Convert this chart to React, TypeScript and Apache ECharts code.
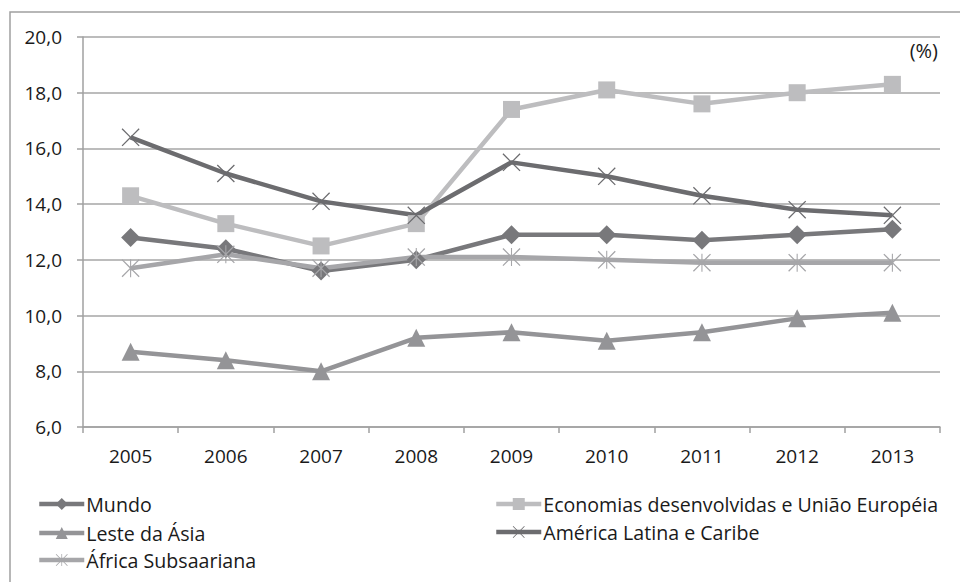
import React, { useEffect, useRef } from "react";
import * as echarts from "echarts";

const categories = ["2005", "2006", "2007", "2008", "2009", "2010", "2011", "2012", "2013"];
const mundo = [12.8, 12.4, 11.6, 12.0, 12.9, 12.9, 12.7, 12.9, 13.1];
const economias = [14.3, 13.3, 12.5, 13.3, 17.4, 18.1, 17.6, 18.0, 18.3];
const lesteAsia = [8.7, 8.4, 8.0, 9.2, 9.4, 9.1, 9.4, 9.9, 10.1];
const americaLatina = [16.4, 15.1, 14.1, 13.6, 15.5, 15.0, 14.3, 13.8, 13.6];
const africa = [11.7, 12.2, 11.7, 12.1, 12.1, 12.0, 11.9, 11.9, 11.9];
const seriesNames = [
  "Mundo",
  "Economias desenvolvidas e União Européia",
  "Leste da Ásia",
  "América Latina e Caribe",
  "África Subsaariana",
];

const X_PATH =
  "path://M0,1 L1,0 L10,9 L19,0 L20,1 L11,10 L20,19 L19,20 L10,11 L1,20 L0,19 L9,10 Z";
const STAR_PATH =
  "path://M0,1 L1,0 L10,9 L19,0 L20,1 L11,10 L20,19 L19,20 L10,11 L1,20 L0,19 L9,10 Z M9.4,0 L10.6,0 L10.6,20 L9.4,20 Z";

const FONT = "Open Sans, Lato, sans-serif";
const FS = 19;
const LFS = 19.6;

export default function App() {
  const ref = useRef<HTMLDivElement>(null);
  useEffect(() => {
    if (!ref.current) return;
    const chart = echarts.init(ref.current, null, { renderer: "svg" });
    const mk = (name: string, data: number[], color: string, symbol: string, size: number) => ({
      name,
      type: "line",
      data,
      symbol,
      symbolSize: size,
      lineStyle: { color, width: 4.5 },
      itemStyle: { color },
      color,
    });
    const lg = (name: string, left: number, top: number) => ({
      orient: "horizontal",
      left,
      top,
      padding: 0,
      itemWidth: 45,
      itemHeight: 15,
      lineStyle: { width: 4.5 },
      data: [name],
      textStyle: { color: "#1a1a1a", fontSize: LFS, fontFamily: FONT, lineHeight: 16, padding: [0, 0, 0, -3] },
    });
    chart.setOption({
      animation: false,
      backgroundColor: "#ffffff",
      textStyle: { fontFamily: FONT },
      grid: { left: 83, right: 20, top: 37, bottom: 155, containLabel: false },
      xAxis: {
        type: "category",
        data: categories,
        boundaryGap: true,
        axisLine: { lineStyle: { color: "#a0a0a0", width: 1.5 } },
        axisTick: { show: true, length: 6, lineStyle: { color: "#a0a0a0", width: 1.5 } },
        axisLabel: { color: "#1a1a1a", fontSize: FS, margin: 19, fontFamily: FONT },
      },
      yAxis: {
        type: "value",
        min: 6,
        max: 20,
        interval: 2,
        axisLine: { show: true, lineStyle: { color: "#a0a0a0", width: 1.5 } },
        axisTick: { show: true, length: 6, lineStyle: { color: "#a0a0a0", width: 1.5 } },
        splitLine: { lineStyle: { color: "#a6a6a6", width: 1.5 } },
        axisLabel: {
          color: "#1a1a1a",
          fontSize: FS,
          margin: 21,
          fontFamily: FONT,
          formatter: (v: number) => v.toFixed(1).replace(".", ","),
        },
      },
      legend: [
        lg(seriesNames[0], 37, 494),
        lg(seriesNames[2], 37, 523),
        lg(seriesNames[4], 37, 550),
        lg(seriesNames[1], 494, 494),
        lg(seriesNames[3], 494, 522),
      ],
      graphic: [
        {
          type: "rect",
          shape: { x: 10, y: 12, width: 970, height: 620 },
          style: { fill: "none", stroke: "#a0a0a0", lineWidth: 1.5 },
          silent: true,
        },
        {
          type: "text",
          right: 22,
          top: 40,
          style: { text: "(%)", fill: "#1a1a1a", font: `20px ${FONT}` },
        },
      ],
      series: [
        mk(seriesNames[0], mundo, "#78787b", "diamond", 19),
        mk(seriesNames[1], economias, "#bdbdbf", "rect", 17),
        mk(seriesNames[2], lesteAsia, "#949497", "triangle", 18),
        mk(seriesNames[3], americaLatina, "#6c6c6f", X_PATH, 18),
        mk(seriesNames[4], africa, "#a6a6a9", STAR_PATH, 18),
      ],
    });
    return () => chart.dispose();
  }, []);
  return (
    <div
      ref={ref}
      style={{ position: "fixed", left: 0, top: 0, width: 960, height: 582, background: "#fff" }}
    />
  );
}
